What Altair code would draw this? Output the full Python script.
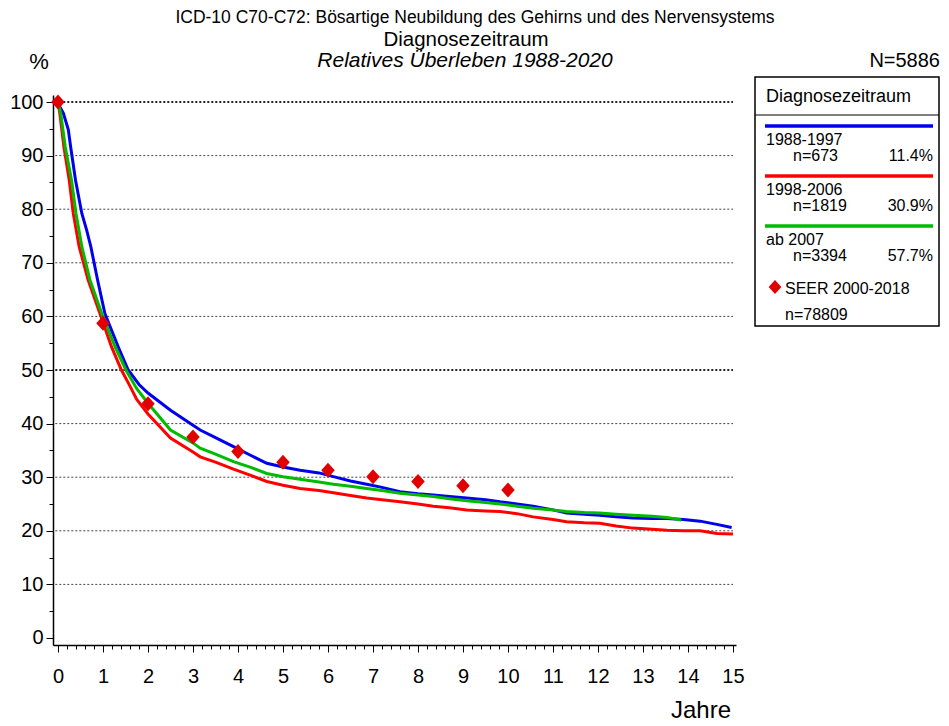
import altair as alt
import pandas as pd

# ---------------- data ----------------
series_names = ["1988-1997", "1998-2006", "ab 2007"]
series_colors = ["#0000ee", "#ff0000", "#00bb00"]

t_blue = [0, 0.05, 0.12, 0.23, 0.28, 0.39, 0.53, 0.64, 0.73, 0.88, 1.04, 1.2, 1.34, 1.56, 1.8, 2.0,
          2.5, 3.0, 3.16, 3.5, 3.9, 4.3, 4.64, 5.0, 5.38, 5.8, 6.12, 6.5, 6.86, 7.2, 7.6, 8.0, 8.34,
          8.7, 9.08, 9.5, 9.82, 10.2, 10.56, 11.0, 11.3, 11.7, 12.04, 12.4, 12.78, 13.2, 13.53, 13.9,
          14.27, 14.64, 14.97]
v_blue = [100, 99.0, 97.9, 94.8, 91.7, 85.4, 79.2, 76.0, 73.0, 66.8, 60.6, 57.2, 54.3, 50.0, 47.3,
          45.7, 42.5, 39.7, 38.8, 37.4, 35.7, 34.0, 32.6, 31.9, 31.3, 30.8, 30.1, 29.3, 28.7, 28.1,
          27.3, 26.9, 26.7, 26.4, 26.1, 25.8, 25.4, 25.0, 24.6, 23.9, 23.3, 23.1, 22.9, 22.6, 22.4,
          22.3, 22.3, 22.1, 21.8, 21.2, 20.6]

t_red = [0, 0.04, 0.13, 0.25, 0.34, 0.47, 0.67, 0.93, 1.19, 1.41, 1.6, 1.75, 2.0, 2.5, 3.0, 3.16,
         3.5, 3.9, 4.3, 4.64, 5.0, 5.38, 5.8, 6.12, 6.5, 6.86, 7.2, 7.6, 8.0, 8.34, 8.7, 9.08, 9.5,
         9.82, 10.2, 10.56, 11.0, 11.3, 11.7, 12.04, 12.4, 12.78, 13.2, 13.53, 13.9, 14.27, 14.64, 15.0]
v_red = [100, 97.9, 91.7, 85.4, 79.2, 73.0, 66.8, 60.6, 54.3, 50.0, 47.0, 44.5, 41.8, 37.3, 34.7,
         33.8, 32.8, 31.5, 30.3, 29.2, 28.5, 27.9, 27.5, 27.1, 26.6, 26.1, 25.8, 25.4, 25.0, 24.6,
         24.3, 23.9, 23.7, 23.6, 23.2, 22.6, 22.1, 21.7, 21.5, 21.4, 20.9, 20.5, 20.3, 20.1, 20.0,
         20.0, 19.5, 19.4]

t_green = [0, 0.06, 0.16, 0.3, 0.4, 0.53, 0.71, 0.97, 1.27, 1.51, 1.75, 2.0, 2.5, 3.0, 3.16, 3.5,
           3.9, 4.3, 4.64, 5.0, 5.38, 5.8, 6.12, 6.5, 6.86, 7.2, 7.6, 8.0, 8.34, 8.7, 9.08, 9.5,
           9.82, 10.2, 10.56, 11.0, 11.3, 11.7, 12.04, 12.4, 12.78, 13.2, 13.53, 13.85]
v_green = [100, 97.9, 91.7, 85.4, 79.2, 73.0, 66.8, 60.6, 54.3, 50.0, 46.5, 43.8, 38.8, 36.4, 35.4,
           34.3, 32.9, 31.8, 30.7, 30.1, 29.6, 29.1, 28.7, 28.3, 27.9, 27.5, 27.0, 26.7, 26.4, 26.0,
           25.6, 25.3, 25.0, 24.6, 24.2, 23.9, 23.6, 23.4, 23.3, 23.1, 22.9, 22.7, 22.5, 22.0]

seer_years = [0, 1, 2, 3, 4, 5, 6, 7, 8, 9, 10]
seer_surv = [100, 58.7, 43.7, 37.5, 34.8, 32.8, 31.3, 30.1, 29.2, 28.4, 27.6]

legend_n = ["n=673", "n=1819", "n=3394"]
legend_pct = ["11.4%", "30.9%", "57.7%"]

x_major = list(range(16))
x_minor = [round(i * 0.2, 1) for i in range(76) if i % 5 != 0]
y_major = list(range(0, 101, 10))
y_minor = list(range(5, 100, 10))
grid_thin = [10, 20, 30, 40, 60, 70, 80, 90]
grid_bold = [50, 100]

# ---------------- layout ----------------
FONT = "Liberation Sans"
W, H = 683, 550
xs = alt.Scale(domain=[-0.111, 15.067], nice=False, zero=False)
ys = alt.Scale(domain=[-1.306, 101.306], nice=False, zero=False)
one = pd.DataFrame({"a": [0]})


def curve(ts, vs, color):
    df = pd.DataFrame({"t": ts, "v": vs})
    return alt.Chart(df).mark_line(color=color, strokeWidth=3, clip=True).encode(
        x=alt.X("t:Q", scale=xs, axis=None),
        y=alt.Y("v:Q", scale=ys, axis=None),
    )


def grid(levels, width, color):
    df = pd.DataFrame({"g": levels, "x0": [-0.06] * len(levels), "x1": [15.0] * len(levels)})
    return alt.Chart(df).mark_rule(strokeDash=[2, 2], strokeWidth=width, color=color).encode(
        y=alt.Y("g:Q", scale=ys, axis=None),
        x=alt.X("x0:Q", scale=xs, axis=None),
        x2="x1:Q",
    )


def txt(s, x, y, size, align="left", style="normal"):
    return alt.Chart(one).mark_text(
        text=s, font=FONT, fontSize=size, align=align, baseline="middle",
        fontStyle=style, color="black"
    ).encode(x=alt.value(x), y=alt.value(y))


def hrule(x1, x2, y, color, width):
    return alt.Chart(one).mark_rule(color=color, strokeWidth=width).encode(
        x=alt.value(x1), x2=alt.value(x2), y=alt.value(y)
    )


diamond = "M-0.9,0L0,-1L0.9,0L0,1Z"

# axes layers
major = alt.Chart(pd.DataFrame({"t": [0], "v": [0]})).mark_point(opacity=0).encode(
    x=alt.X("t:Q", scale=xs, axis=alt.Axis(
        values=x_major, format="d", orient="bottom", title=None, grid=False,
        labelFont=FONT, labelFontSize=20, labelColor="black", labelPadding=14,
        tickSize=7, tickColor="black", tickWidth=1, domainColor="black", domainWidth=1.5,
        labelFlush=False, labelOverlap=False)),
    y=alt.Y("v:Q", scale=ys, axis=alt.Axis(
        values=y_major, format="d", orient="left", title=None, grid=False,
        labelFont=FONT, labelFontSize=20, labelColor="black", labelPadding=3,
        tickSize=7, tickColor="black", tickWidth=1, domainColor="black", domainWidth=1.5,
        labelFlush=False, labelOverlap=False)),
)
minor = alt.Chart(pd.DataFrame({"t": [0], "v": [0]})).mark_point(opacity=0).encode(
    x=alt.X("t:Q", scale=xs, axis=alt.Axis(
        values=x_minor, orient="bottom", title=None, grid=False, labels=False,
        tickSize=4, tickColor="black", tickWidth=1, domain=False)),
    y=alt.Y("v:Q", scale=ys, axis=alt.Axis(
        values=y_minor, orient="left", title=None, grid=False, labels=False,
        tickSize=4, tickColor="black", tickWidth=1, domain=False)),
)

seer = alt.Chart(pd.DataFrame({"t": seer_years, "v": seer_surv})).mark_point(
    shape=diamond, filled=True, size=225, color="#e00000", opacity=1
).encode(x=alt.X("t:Q", scale=xs, axis=None), y=alt.Y("v:Q", scale=ys, axis=None))

# legend
box = alt.Chart(one).mark_rect(fill="white", stroke="black", strokeWidth=1.5).encode(
    x=alt.value(702), x2=alt.value(886), y=alt.value(-18), y2=alt.value(231)
)
legend_layers = [box, hrule(702, 886, 20, "black", 1), txt("Diagnosezeitraum", 713, 2, 18)]
for i, (name, col) in enumerate(zip(series_names, series_colors)):
    ly = 31 + 50 * i
    legend_layers += [
        hrule(712, 880, ly, col, 3.5),
        txt(name, 713, ly + 14, 16),
        txt(legend_n[i], 740, ly + 30, 16),
        txt(legend_pct[i], 880, ly + 30, 16, align="right"),
    ]
legend_layers += [
    alt.Chart(one).mark_point(shape=diamond, filled=True, size=200, color="#e00000", opacity=1)
    .encode(x=alt.value(722), y=alt.value(192)),
    txt("SEER 2000-2018", 732, 194, 16),
    txt("n=78809", 732, 220, 16),
]

titles = [
    txt("ICD-10 C70-C72: Bösartige Neubildung des Gehirns und des Nervensystems", 422, -77, 17.5, "center"),
    txt("Diagnosezeitraum", 413, -55, 20.5, "center"),
    txt("Relatives Überleben 1988-2020", 412, -34, 21, "center", "italic"),
    txt("%", -14, -33, 22, "center"),
    txt("N=5886", 887, -34, 20, "right"),
    txt("Jahre", 648, 616, 24, "center"),
]

chart = alt.layer(
    major, minor,
    grid(grid_thin, 1, "#444444"), grid(grid_bold, 2, "#222222"),
    curve(t_blue, v_blue, series_colors[0]),
    curve(t_red, v_red, series_colors[1]),
    curve(t_green, v_green, series_colors[2]),
    seer,
    *legend_layers,
    *titles,
).resolve_axis(x="independent", y="independent").properties(
    width=W, height=H, autosize="none",
    padding={"left": 45, "top": 87, "right": 205, "bottom": 77},
    background="white",
).configure_view(stroke=None)

chart.save("out.html", embed_options={"renderer": "svg", "actions": False})
